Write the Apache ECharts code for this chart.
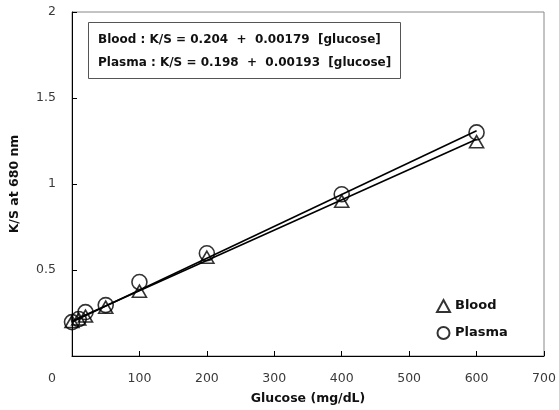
<!DOCTYPE html>
<html><head><meta charset="utf-8">
<script src="https://cdn.jsdelivr.net/npm/echarts@6/dist/echarts.min.js"></script>
<style>html,body{margin:0;padding:0;background:#fff}#c{width:559px;height:410px}</style>
</head><body><div id="c"></div>
<script>
var glucose = [0, 10, 20, 50, 100, 200, 400, 600];
var blood = [0.20, 0.215, 0.232, 0.284, 0.377, 0.574, 0.90, 1.246];
var plasma = [0.197, 0.215, 0.255, 0.296, 0.43, 0.597, 0.94, 1.30];
var fitX = [0, 600];
var bloodFit = [0.204, 1.26];
var plasmaFit = [0.198, 1.31];
var equations = ['Blood : K/S = 0.204  +  0.00179  [glucose]', 'Plasma : K/S = 0.198  +  0.00193  [glucose]'];
var xTicks = [0, 100, 200, 300, 400, 500, 600, 700];
var yTicks = [0, 0.5, 1, 1.5, 2];

function pairs(xs, ys){ return xs.map(function(x,i){return [x, ys[i]];}); }
var FONT = '"DejaVu Sans", sans-serif';
var chart = echarts.init(document.getElementById('c'));
chart.setOption({
  animation: false,
  backgroundColor: '#fff',
  title: {
    text: equations.join('\n'),
    left: 88, top: 22,
    padding: [6, 10, 5, 10],
    borderColor: '#555', borderWidth: 1,
    textStyle: {fontFamily: FONT, fontSize: 12, fontWeight: 'bold', color: '#111', lineHeight: 23}
  },
  legend: {
    orient: 'vertical', left: 431, top: 294,
    itemWidth: 13, itemHeight: 12, itemGap: 13,
    textStyle: {fontFamily: FONT, fontSize: 13, fontWeight: 'bold', color: '#111'},
    data: [{name: 'Blood', icon: 'triangle'}, {name: 'Plasma', icon: 'circle'}]
  },
  grid: {left: 66, right: 15, top: 12, bottom: 53, show: true, borderColor: '#888', borderWidth: 1},
  xAxis: {
    type: 'value', min: 0, max: 700, interval: 100,
    name: 'Glucose (mg/dL)', nameLocation: 'middle', nameGap: 36,
    nameTextStyle: {fontFamily: FONT, fontSize: 12.5, fontWeight: 'bold', color: '#111'},
    axisLine: {show: true, lineStyle: {color: '#000', width: 1}},
    axisTick: {show: true, inside: true, length: 5, lineStyle: {color: '#000'}},
    splitLine: {show: false},
    axisLabel: {
      fontFamily: FONT, fontSize: 12.5, color: '#3a3a3a', margin: 16,
      formatter: function(v){ return v === xTicks[0] ? '{z|' + v + '}' : String(v); },
      rich: {z: {fontFamily: FONT, fontSize: 12.5, color: '#3a3a3a', padding: [0, 40, 0, 0]}}
    }
  },
  yAxis: {
    type: 'value', min: 0, max: 2, interval: 0.5,
    name: 'K/S at 680 nm', nameLocation: 'middle', nameGap: 51,
    nameTextStyle: {fontFamily: FONT, fontSize: 12.5, fontWeight: 'bold', color: '#111'},
    axisLine: {show: true, lineStyle: {color: '#000', width: 1}},
    axisTick: {show: true, inside: true, length: 5, lineStyle: {color: '#000'}},
    splitLine: {show: false},
    axisLabel: {
      fontFamily: FONT, fontSize: 12.5, color: '#3a3a3a', margin: 16,
      formatter: function(v){ return v === yTicks[0] ? '' : String(v); }
    }
  },
  series: [
    {name: 'BloodFit', type: 'line', data: pairs(fitX, bloodFit), symbol: 'none',
     lineStyle: {color: '#000', width: 1.6}, z: 2, silent: true},
    {name: 'PlasmaFit', type: 'line', data: pairs(fitX, plasmaFit), symbol: 'none',
     lineStyle: {color: '#000', width: 1.6}, z: 2, silent: true},
    {name: 'Blood', type: 'scatter', data: pairs(glucose, blood), symbol: 'triangle', symbolSize: [14, 12],
     itemStyle: {color: 'rgba(255,255,255,0)', borderColor: '#000', borderWidth: 1.6}, z: 3},
    {name: 'Plasma', type: 'scatter', data: pairs(glucose, plasma), symbol: 'circle', symbolSize: 15,
     itemStyle: {color: 'rgba(255,255,255,0)', borderColor: '#000', borderWidth: 1.6}, z: 4}
  ]
});
</script></body></html>
